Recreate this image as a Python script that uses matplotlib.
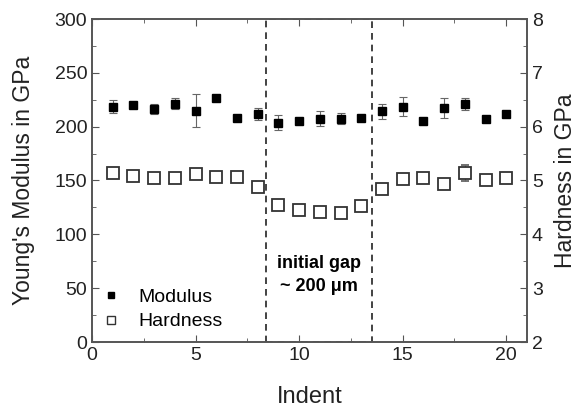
import matplotlib
matplotlib.use("Agg")
import matplotlib.pyplot as plt
from matplotlib.patches import Rectangle
from matplotlib.lines import Line2D
from matplotlib.ticker import MultipleLocator

plt.rcParams['font.family'] = ['Liberation Sans', 'DejaVu Sans']

# --- data ---
indent = list(range(1, 21))
modulus = [218.5, 220, 216.5, 221.5, 215, 227, 208.5, 211.5, 203.5, 205,
           207.5, 207.5, 208.5, 214.5, 218.5, 205.5, 217.5, 221, 207.5, 212]
modulus_err = [6, 3, 5, 5, 15, 1, 1, 5.5, 7, 2,
               7, 5, 2, 7, 9, 1, 9, 5.5, 1, 1]
hardness = [5.14, 5.09, 5.05, 5.04, 5.12, 5.07, 5.06, 4.88, 4.54, 4.45,
            4.42, 4.39, 4.53, 4.84, 5.03, 5.04, 4.93, 5.14, 5.01, 5.04]
hardness_err = [0.03, 0.03, 0.03, 0.03, 0.04, 0.03, 0.03, 0.03, 0.04, 0.03,
                0.03, 0.03, 0.04, 0.03, 0.03, 0.03, 0.03, 0.15, 0.03, 0.04]
gap_start, gap_end = 8.4, 13.5

AX_COL = "#555555"

fig = plt.figure(figsize=(5.78, 4.11), dpi=100)
ax = fig.add_axes([92/578, 1 - 342/411, (527-92)/578, (342-19)/411])
ax2 = ax.twinx()

ax.errorbar(indent, modulus, yerr=modulus_err, fmt="s", color="black",
            ms=6, ecolor="#666666", elinewidth=0.8, capsize=3, capthick=0.8,
            zorder=3)
ax2.errorbar(indent, hardness, yerr=hardness_err, fmt="s", mfc="white",
             mec="#333333", mew=1.3, ms=8, ecolor="#666666", elinewidth=0.8,
             capsize=3, capthick=0.8, zorder=3)

ax.add_patch(Rectangle((gap_start, 0), gap_end - gap_start, 300, fill=False,
                       ls=(0, (4, 3)), lw=1.2, ec="#222222", zorder=2))
ax.text((gap_start + gap_end) / 2, 62, "initial gap\n~ 200 \u03bcm", ha="center",
        va="center", fontsize=13, fontweight="bold", linespacing=1.5)

ax.set_xlim(0, 21)
ax.set_ylim(0, 300)
ax2.set_ylim(2, 8)

ax.xaxis.set_major_locator(MultipleLocator(5))
ax.xaxis.set_minor_locator(MultipleLocator(2.5))
ax.yaxis.set_major_locator(MultipleLocator(50))
ax.yaxis.set_minor_locator(MultipleLocator(25))
ax2.yaxis.set_major_locator(MultipleLocator(1))
ax2.yaxis.set_minor_locator(MultipleLocator(0.5))

ax.tick_params(which="both", direction="in", top=True, colors=AX_COL,
               labelcolor="#222222", labelsize=14)
ax.tick_params(which="major", length=5)
ax.tick_params(which="minor", length=3)
ax2.tick_params(which="both", direction="in", colors=AX_COL,
                labelcolor="#222222", labelsize=14)
ax2.tick_params(which="major", length=5)
ax2.tick_params(which="minor", length=3)
for a in (ax, ax2):
    for s in a.spines.values():
        s.set_color(AX_COL)
        s.set_linewidth(1.2)

ax.set_xlabel("Indent", fontsize=17, color="#222222", labelpad=16)
ax.set_ylabel("Young's Modulus in GPa", fontsize=16.5, color="#222222", labelpad=14)
ax2.set_ylabel("Hardness in GPa", fontsize=16.5, color="#222222", labelpad=8)

handles = [
    Line2D([], [], ls="none", marker="s", color="black", ms=5),
    Line2D([], [], ls="none", marker="s", mfc="white", mec="#333333", mew=1.0, ms=6),
]
ax.legend(handles, ["Modulus", "Hardness"], loc="lower left", frameon=False,
          fontsize=14, handlelength=0.8, handletextpad=1.0,
          borderaxespad=0.2, labelspacing=0.35)

fig.savefig("out.png", dpi=100)
